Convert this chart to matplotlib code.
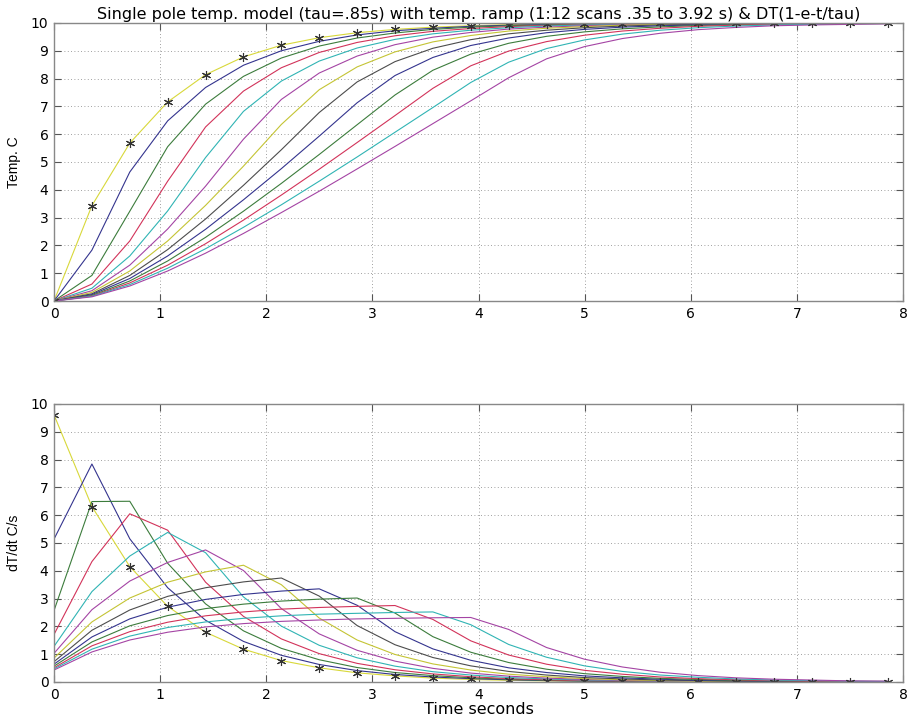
import matplotlib
matplotlib.use("Agg")
import matplotlib.pyplot as plt

plt.rcParams['font.family'] = ['DejaVu Sans']

# sample times (s)
t_sec = [0, 0.357, 0.714, 1.071, 1.428, 1.785, 2.142, 2.499, 2.856, 3.213, 3.570, 3.927,
         4.284, 4.641, 4.998, 5.355, 5.712, 6.069, 6.426, 6.783, 7.140, 7.497, 7.854]

# temperature, C : step response (stars) and ramps of 1..12 scans
temp_step = [0, 3.43, 5.68, 7.16, 8.14, 8.78, 9.20, 9.47, 9.65, 9.77, 9.85, 9.90, 9.94, 9.96, 9.97, 9.98, 9.99, 9.99, 10.0, 10.0, 10.0, 10.0, 10.0]
temp_r1 = [0, 1.83, 4.64, 6.48, 7.68, 8.48, 9.00, 9.34, 9.57, 9.72, 9.81, 9.88, 9.92, 9.95, 9.97, 9.98, 9.99, 9.99, 9.99, 10.0, 10.0, 10.0, 10.0]
temp_r2 = [0, 0.92, 3.23, 5.55, 7.08, 8.08, 8.74, 9.17, 9.46, 9.64, 9.77, 9.85, 9.90, 9.93, 9.96, 9.97, 9.98, 9.99, 9.99, 9.99, 10.0, 10.0, 10.0]
temp_r3 = [0, 0.61, 2.16, 4.31, 6.26, 7.55, 8.39, 8.94, 9.30, 9.54, 9.70, 9.80, 9.87, 9.91, 9.94, 9.96, 9.98, 9.98, 9.99, 9.99, 10.0, 10.0, 10.0]
temp_r4 = [0, 0.46, 1.62, 3.24, 5.16, 6.82, 7.91, 8.63, 9.10, 9.41, 9.61, 9.74, 9.83, 9.89, 9.93, 9.95, 9.97, 9.98, 9.99, 9.99, 9.99, 10.0, 10.0]
temp_r5 = [0, 0.37, 1.29, 2.59, 4.13, 5.82, 7.25, 8.20, 8.81, 9.22, 9.49, 9.66, 9.78, 9.85, 9.90, 9.94, 9.96, 9.97, 9.98, 9.99, 9.99, 9.99, 10.0]
temp_r6 = [0, 0.31, 1.08, 2.16, 3.44, 4.85, 6.35, 7.60, 8.42, 8.96, 9.32, 9.55, 9.71, 9.81, 9.87, 9.92, 9.95, 9.96, 9.98, 9.98, 9.99, 9.99, 10.0]
temp_r7 = [0, 0.26, 0.92, 1.85, 2.95, 4.16, 5.44, 6.78, 7.88, 8.61, 9.09, 9.40, 9.61, 9.74, 9.83, 9.89, 9.93, 9.95, 9.97, 9.98, 9.99, 9.99, 9.99]
temp_r8 = [0, 0.23, 0.81, 1.62, 2.58, 3.64, 4.76, 5.93, 7.13, 8.11, 8.76, 9.19, 9.46, 9.65, 9.77, 9.85, 9.90, 9.93, 9.96, 9.97, 9.98, 9.99, 9.99]
temp_r9 = [0, 0.20, 0.72, 1.44, 2.29, 3.23, 4.23, 5.27, 6.34, 7.41, 8.30, 8.88, 9.27, 9.52, 9.68, 9.79, 9.86, 9.91, 9.94, 9.96, 9.97, 9.98, 9.99]
temp_r10 = [0, 0.18, 0.65, 1.29, 2.06, 2.91, 3.81, 4.74, 5.70, 6.67, 7.65, 8.46, 8.99, 9.33, 9.56, 9.71, 9.81, 9.88, 9.92, 9.95, 9.96, 9.98, 9.98]
temp_r11 = [0, 0.17, 0.59, 1.18, 1.88, 2.65, 3.46, 4.31, 5.18, 6.07, 6.96, 7.86, 8.59, 9.08, 9.39, 9.60, 9.74, 9.83, 9.89, 9.93, 9.95, 9.97, 9.98]
temp_r12 = [0, 0.15, 0.54, 1.08, 1.72, 2.43, 3.18, 3.95, 4.75, 5.56, 6.38, 7.20, 8.03, 8.71, 9.15, 9.44, 9.63, 9.76, 9.84, 9.90, 9.93, 9.95, 9.97]

# dT/dt, C/s
rate_step = [9.61, 6.31, 4.15, 2.72, 1.79, 1.18, 0.77, 0.51, 0.33, 0.22, 0.14, 0.09, 0.06, 0.04, 0.03, 0.02, 0.01, 0.01, 0.01, 0.0, 0.0, 0.0, 0.0]
rate_r1 = [5.14, 7.84, 5.15, 3.39, 2.22, 1.46, 0.96, 0.63, 0.41, 0.27, 0.18, 0.12, 0.08, 0.05, 0.03, 0.02, 0.01, 0.01, 0.01, 0.0, 0.0, 0.0, 0.0]
rate_r2 = [2.57, 6.49, 6.50, 4.27, 2.81, 1.84, 1.21, 0.80, 0.52, 0.34, 0.23, 0.15, 0.10, 0.06, 0.04, 0.03, 0.02, 0.01, 0.01, 0.01, 0.0, 0.0, 0.0]
rate_r3 = [1.71, 4.33, 6.05, 5.46, 3.59, 2.36, 1.55, 1.02, 0.67, 0.44, 0.29, 0.19, 0.12, 0.08, 0.05, 0.04, 0.02, 0.02, 0.01, 0.01, 0.0, 0.0, 0.0]
rate_r4 = [1.28, 3.25, 4.53, 5.38, 4.65, 3.06, 2.01, 1.32, 0.87, 0.57, 0.37, 0.25, 0.16, 0.11, 0.07, 0.05, 0.03, 0.02, 0.01, 0.01, 0.01, 0.0, 0.0]
rate_r5 = [1.03, 2.60, 3.63, 4.30, 4.75, 4.01, 2.64, 1.73, 1.14, 0.75, 0.49, 0.32, 0.21, 0.14, 0.09, 0.06, 0.04, 0.03, 0.02, 0.01, 0.01, 0.0, 0.0]
rate_r6 = [0.86, 2.16, 3.02, 3.59, 3.96, 4.20, 3.50, 2.30, 1.51, 0.99, 0.65, 0.43, 0.28, 0.19, 0.12, 0.08, 0.05, 0.03, 0.02, 0.02, 0.01, 0.01, 0.0]
rate_r7 = [0.73, 1.86, 2.59, 3.08, 3.39, 3.60, 3.74, 3.09, 2.03, 1.34, 0.88, 0.58, 0.38, 0.25, 0.16, 0.11, 0.07, 0.05, 0.03, 0.02, 0.01, 0.01, 0.01]
rate_r8 = [0.64, 1.62, 2.27, 2.69, 2.97, 3.15, 3.27, 3.35, 2.76, 1.81, 1.19, 0.78, 0.51, 0.34, 0.22, 0.15, 0.10, 0.06, 0.04, 0.03, 0.02, 0.01, 0.01]
rate_r9 = [0.57, 1.44, 2.02, 2.39, 2.64, 2.80, 2.91, 2.98, 3.02, 2.48, 1.63, 1.07, 0.70, 0.46, 0.30, 0.20, 0.13, 0.09, 0.06, 0.04, 0.02, 0.02, 0.01]
rate_r10 = [0.51, 1.30, 1.81, 2.15, 2.38, 2.52, 2.62, 2.68, 2.72, 2.75, 2.25, 1.48, 0.97, 0.64, 0.42, 0.28, 0.18, 0.12, 0.08, 0.05, 0.03, 0.02, 0.02]
rate_r11 = [0.47, 1.18, 1.65, 1.96, 2.16, 2.29, 2.38, 2.44, 2.47, 2.50, 2.52, 2.06, 1.35, 0.89, 0.58, 0.38, 0.25, 0.17, 0.11, 0.07, 0.05, 0.03, 0.02]
rate_r12 = [0.43, 1.08, 1.51, 1.79, 1.98, 2.10, 2.18, 2.23, 2.27, 2.29, 2.31, 2.32, 1.89, 1.24, 0.82, 0.54, 0.35, 0.23, 0.15, 0.10, 0.07, 0.04, 0.03]

temps = [temp_step, temp_r1, temp_r2, temp_r3, temp_r4, temp_r5, temp_r6,
         temp_r7, temp_r8, temp_r9, temp_r10, temp_r11, temp_r12]
rates = [rate_step, rate_r1, rate_r2, rate_r3, rate_r4, rate_r5, rate_r6,
         rate_r7, rate_r8, rate_r9, rate_r10, rate_r11, rate_r12]

# old matlab colour order, first curve yellow
colors = ['#d8d83a', '#34348e', '#3c7c3c', '#d2335a', '#30b4b4', '#a444a4', '#c4c434',
          '#4c4c4c', '#34348e', '#3c7c3c', '#d2335a', '#30b4b4', '#a444a4']

fig = plt.figure(figsize=(9.14, 7.16), dpi=100)
ax1 = fig.add_axes([0.0591, 0.5796, 0.9289, 0.3883])
ax2 = fig.add_axes([0.0591, 0.0475, 0.9289, 0.3883])

star = (6, 2, 0)
for ax, series in [(ax1, temps), (ax2, rates)]:
    for y, c in zip(series, colors):
        ax.plot(t_sec, y, color=c, lw=0.8)
    ax.plot(t_sec, series[0], ls='none', marker=star, ms=6.5, mec='#333333', mew=0.8)
    ax.set_xlim(0, 8)
    ax.set_ylim(0, 10)
    ax.set_xticks(range(0, 9))
    ax.set_yticks(range(0, 11))
    ax.grid(True, ls=(0, (1, 3)), color='#808080', lw=0.6)
    ax.set_axisbelow(True)
    ax.tick_params(direction='in', length=5, top=True, right=True, labelsize=10,
                   color='#555555', pad=4)
    for s in ax.spines.values():
        s.set_color('#888888')
        s.set_linewidth(1)

ax1.set_title('Single pole temp. model (tau=.85s) with temp. ramp (1:12 scans .35 to 3.92 s) & DT(1-e-t/tau)',
              fontsize=11.5, pad=3)
ax1.set_ylabel('Temp. C', family=['Liberation Sans Narrow', 'Liberation Sans'], fontsize=10, labelpad=7)
ax2.set_ylabel('dT/dt C/s', family=['Liberation Sans Narrow', 'Liberation Sans'], fontsize=10, labelpad=7)
ax2.set_xlabel('Time seconds', fontsize=11.5, labelpad=0)

fig.savefig('out.png', dpi=100)
